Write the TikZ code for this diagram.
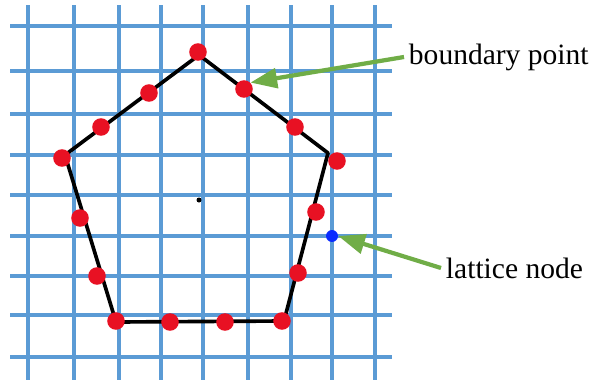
\documentclass[tikz,border=0pt]{standalone}
\usepackage{fontspec}
\setmainfont{Liberation Serif}
\usetikzlibrary{arrows.meta}
\definecolor{gridblue}{HTML}{5B9BD5}
\definecolor{dotred}{HTML}{E81123}
\definecolor{nodeblue}{HTML}{0A2BFF}
\definecolor{arrowgreen}{HTML}{70AD47}
\tikzset{
  bpoint/.style={circle,fill=dotred,inner sep=0pt,minimum size=12.5pt},
  lpoint/.style={circle,fill=nodeblue,inner sep=0pt,minimum size=8.5pt},
  callout/.style={draw=arrowgreen,line width=3pt,-{Triangle[length=19pt,width=14pt]}},
}

\begin{document}
\begin{tikzpicture}[x=0.025cm,y=-0.025cm,font=\fontsize{21}{25}\selectfont]
        \useasboundingbox (0,0) rectangle (600,383);
        % lattice
        \foreach \gx in {28,74,119,161,203,248,291,332,375}
          \draw[gridblue,line width=2.9pt] (\gx,5) -- (\gx,380);
        \foreach \gy in {26,71,114,155,195,236,276,315,357}
          \draw[gridblue,line width=2.9pt] (10,\gy) -- (392,\gy);
        % pentagon
        \coordinate (top) at (199,55);
        \coordinate (right) at (328,153);
        \coordinate (botright) at (284,321);
        \coordinate (botleft) at (116,322);
        \coordinate (left) at (65,155);
        \draw[black,line width=2.6pt,line join=round] (top) -- (right) -- (botright) -- (botleft) -- (left) -- cycle;
        \fill (199,200) circle (2.5);
        % boundary points
        \foreach \px/\py [count=\i] in {198/52,244/89,295/127,337/161,316/212,298/273,282/321,225/322,170/322,116/321,97/276,80/218,62/158,101/127,149/93}
          \node[bpoint] (b\i) at (\px,\py) {};
        \node[lpoint] (ln) at (332,236) {};
        % labels
        \node[anchor=west] (bptext) at (404,57) {boundary point};
        \node[anchor=west] (lntext) at (441,268) {lattice node};
        \draw[callout] (bptext.west) -- (b2.north east);
        \draw[callout] (lntext.west) -- (ln.east);
      \end{tikzpicture}
\end{document}
